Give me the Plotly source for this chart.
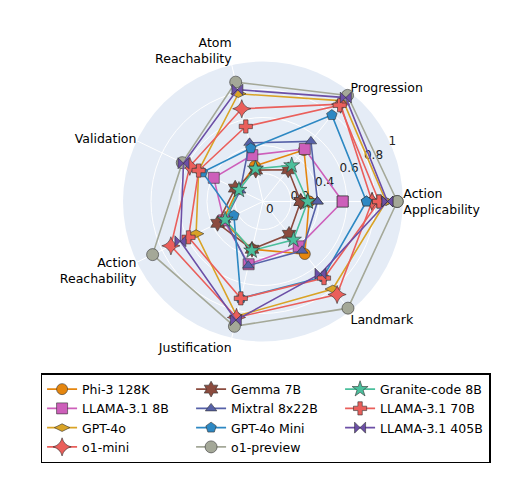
import plotly.graph_objects as go

categories = ["Action<br>Applicability", "Progression", "Atom<br>Reachability", "Validation",
              "Action<br>Reachability", "Justification", "Landmark"]

models = ["Phi-3 128K", "LLAMA-3.1 8B", "GPT-4o", "o1-mini", "Gemma 7B", "Mixtral 8x22B",
          "GPT-4o Mini", "o1-preview", "Granite-code 8B", "LLAMA-3.1 70B", "LLAMA-3.1 405B"]

phi3 = [0.33, 0.47, 0.26, 0.20, 0.32, 0.35, 0.48]
llama8b = [0.57, 0.48, 0.34, 0.39, 0.31, 0.46, 0.41]
gpt4o = [0.88, 0.92, 0.79, 0.51, 0.53, 0.84, 0.80]
o1_mini = [0.78, 0.89, 0.68, 0.58, 0.73, 0.85, 0.85]
gemma7b = [0.27, 0.29, 0.23, 0.22, 0.36, 0.35, 0.30]
mixtral = [0.39, 0.55, 0.43, 0.18, 0.30, 0.47, 0.45]
gpt4o_mini = [0.74, 0.79, 0.39, 0.48, 0.23, 0.71, 0.69]
o1_preview = [0.96, 0.97, 0.875, 0.64, 0.875, 0.915, 0.975]
granite8b = [0.32, 0.33, 0.24, 0.19, 0.30, 0.36, 0.35]
llama70b = [0.83, 0.88, 0.55, 0.51, 0.59, 0.71, 0.70]
llama405b = [0.89, 0.95, 0.82, 0.63, 0.655, 0.87, 0.66]

series = [phi3, llama8b, gpt4o, o1_mini, gemma7b, mixtral, gpt4o_mini, o1_preview,
          granite8b, llama70b, llama405b]

colors = ["#e5860f", "#cd5fba", "#d9a326", "#ea5f5b", "#8b4b3e", "#5661a8",
          "#2d88c3", "#a4a898", "#4bbf9c", "#ea5f5b", "#6c4fa6"]
symbols = ["circle", "square", "diamond-wide", "star-diamond", "hexagram", "triangle-up",
           "pentagon", "circle", "star", "cross", "bowtie"]
sizes = [11, 11, 11, 13, 12, 10, 11, 12, 12, 11, 11]
# legend is filled column by column in the reference
legend_rank = [1, 4, 7, 10, 2, 5, 8, 11, 3, 6, 9]

fig = go.Figure()

for name, vals, col, sym, sz, rank in zip(models, series, colors, symbols, sizes, legend_rank):
    fig.add_trace(
        go.Scatterpolar(
            r=vals + vals[:1],
            theta=categories + categories[:1],
            mode="lines+markers",
            name=name,
            legendrank=rank,
            line=dict(color=col, width=1.6),
            marker=dict(symbol=sym, size=sz, color=col, line=dict(color="#333333", width=0.6)),
        )
    )

# page body has an 8px default margin, domains are nudged to compensate
fig.update_layout(
    width=530,
    height=500,
    margin=dict(l=0, r=0, t=0, b=0),
    paper_bgcolor="white",
    font=dict(family="DejaVu Sans", size=12, color="black"),
    polar=dict(
        domain=dict(x=[0.217, 0.745], y=[0.333, 0.893]),
        bgcolor="#E5ECF6",
        radialaxis=dict(
            range=[0, 1],
            tickvals=[0, 0.2, 0.4, 0.6, 0.8, 1],
            ticktext=["0", "0.2", "0.4", "0.6", "0.8", "1"],
            angle=29,
            tickangle=29,
            showline=False,
            ticks="",
            gridcolor="white",
            gridwidth=1,
            layer="below traces",
            tickfont=dict(size=12, color="#222222"),
        ),
        angularaxis=dict(
            rotation=0,
            direction="counterclockwise",
            gridcolor="white",
            showline=False,
            ticks="",
            layer="below traces",
            tickfont=dict(size=12.5),
        ),
    ),
    legend=dict(
        orientation="h",
        x=0.486,
        xanchor="center",
        y=0.270,
        yanchor="top",
        entrywidth=104,
        entrywidthmode="pixels",
        bordercolor="black",
        borderwidth=1.5,
        bgcolor="white",
        font=dict(size=12.5),
        tracegroupgap=0,
    ),
)

fig.write_html("out.html")
